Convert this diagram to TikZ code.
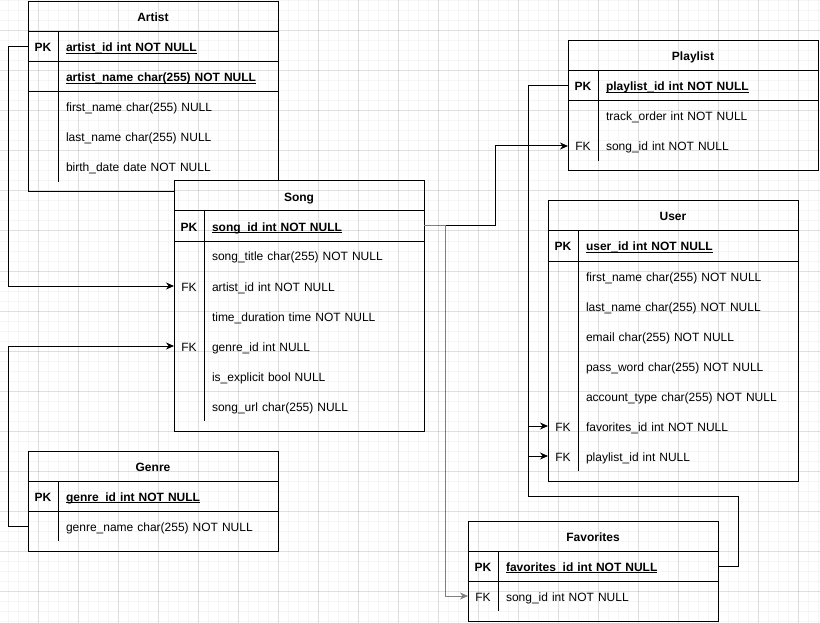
\documentclass[tikz,border=0pt]{standalone}
\usepackage{fontspec}
\setmainfont{Liberation Sans}
\usetikzlibrary{positioning,arrows.meta}

\newcommand{\tblw}{250}
\newcommand{\erfont}{\fontsize{12pt}{14pt}\selectfont}
\newcommand{\rowstrut}{\rule[-3pt]{0pt}{16pt}}
\newcommand{\pkfield}[1]{\underline{\raisebox{0pt}[\height][0pt]{\textbf{#1}}}}
\newcommand{\tblframe}[3]{%
    \filldraw[tblline,fill=white] (#1,#2) rectangle ++(\tblw,{30*#3+40});
    \draw[tblline] (#1,{#2+30}) -- ++(\tblw,0);
    \draw[tblline] (#1,{#2+60}) -- ++(\tblw,0);
    \draw[tblline] ({#1+30},{#2+30}) -- ++(0,{30*#3});
}

\tikzset{
    tblline/.style={line width=1pt},
    tblhead/.style={anchor=north west, minimum width=250pt, minimum height=30pt,
        inner sep=0pt, outer sep=0pt, font=\erfont\bfseries,
        execute at begin node=\rowstrut},
    fieldrow/.style={minimum height=30pt, text width=250pt, inner xsep=0pt,
        inner ysep=0pt, outer sep=0pt, align=left, font=\erfont,
        execute at begin node=\rowstrut\hspace*{38pt}},
    keylbl/.style={inner sep=0pt, font=\erfont, execute at begin node=\rowstrut},
    pklbl/.style={keylbl, font=\erfont\bfseries},
    link/.style={line width=1pt, ->},
    gridminor/.style={line width=1pt, black, opacity=0.035},
    gridmajor/.style={line width=1pt, black, opacity=0.09},
}

\begin{document}
\begin{tikzpicture}[x=1pt, y=-1pt, >={Stealth[length=8pt,width=7pt]}]

\fill[white] (0,0) rectangle (820,623);
\useasboundingbox (0,0) rectangle (820,623);

% artist table
\tblframe{28}{2}{5}
\node[tblhead] (artist) at (28,2) {Artist};
\node[fieldrow, below=0pt of artist] (artist-pk) {\pkfield{artist\_id int NOT NULL}};
\node[fieldrow, below=0pt of artist-pk] (artist-name) {\pkfield{artist\_name char(255) NOT NULL}};
\node[fieldrow, below=0pt of artist-name] (artist-first) {first\_name char(255) NULL};
\node[fieldrow, below=0pt of artist-first] (artist-last) {last\_name char(255) NULL};
\node[fieldrow, below=0pt of artist-last] (artist-birth) {birth\_date date NOT NULL};
\node[pklbl] (artist-pk-key) at ([xshift=15pt]artist-pk.west) {PK};
\draw[tblline] (artist-name.south west) -- (artist-name.south east);

% genre table
\tblframe{28}{451}{2}
\node[tblhead] (genre) at (28,451) {Genre};
\node[fieldrow, below=0pt of genre] (genre-pk) {\pkfield{genre\_id int NOT NULL}};
\node[fieldrow, below=0pt of genre-pk] (genre-name) {genre\_name char(255) NOT NULL};
\node[pklbl] (genre-pk-key) at ([xshift=15pt]genre-pk.west) {PK};

% song table
\tblframe{174}{181}{7}
\node[tblhead] (song) at (174,181) {Song};
\node[fieldrow, below=0pt of song] (song-pk) {\pkfield{song\_id int NOT NULL}};
\node[fieldrow, below=0pt of song-pk] (song-title) {song\_title char(255) NOT NULL};
\node[fieldrow, below=0pt of song-title] (song-artistid) {artist\_id int NOT NULL};
\node[fieldrow, below=0pt of song-artistid] (song-duration) {time\_duration time NOT NULL};
\node[fieldrow, below=0pt of song-duration] (song-genreid) {genre\_id int NULL};
\node[fieldrow, below=0pt of song-genreid] (song-explicit) {is\_explicit bool NULL};
\node[fieldrow, below=0pt of song-explicit] (song-url) {song\_url char(255) NULL};
\node[pklbl] (song-pk-key) at ([xshift=15pt]song-pk.west) {PK};
\node[keylbl] (song-artistid-key) at ([xshift=15pt]song-artistid.west) {FK};
\node[keylbl] (song-genreid-key) at ([xshift=15pt]song-genreid.west) {FK};

% playlist table
\tblframe{568}{41}{3}
\node[tblhead] (playlist) at (568,41) {Playlist};
\node[fieldrow, below=0pt of playlist] (playlist-pk) {\pkfield{playlist\_id int NOT NULL}};
\node[fieldrow, below=0pt of playlist-pk] (playlist-order) {track\_order int NOT NULL};
\node[fieldrow, below=0pt of playlist-order] (playlist-songid) {song\_id int NOT NULL};
\node[pklbl] (playlist-pk-key) at ([xshift=15pt]playlist-pk.west) {PK};
\node[keylbl] (playlist-songid-key) at ([xshift=15pt]playlist-songid.west) {FK};

% user table
\tblframe{548}{201}{8}
\node[tblhead] (user) at (548,201) {User};
\node[fieldrow, below=0pt of user] (user-pk) {\pkfield{user\_id int NOT NULL}};
\node[fieldrow, below=0pt of user-pk] (user-first) {first\_name char(255) NOT NULL};
\node[fieldrow, below=0pt of user-first] (user-last) {last\_name char(255) NOT NULL};
\node[fieldrow, below=0pt of user-last] (user-email) {email char(255) NOT NULL};
\node[fieldrow, below=0pt of user-email] (user-pass) {pass\_word char(255) NOT NULL};
\node[fieldrow, below=0pt of user-pass] (user-type) {account\_type char(255) NOT NULL};
\node[fieldrow, below=0pt of user-type] (user-favid) {favorites\_id int NOT NULL};
\node[fieldrow, below=0pt of user-favid] (user-playlistid) {playlist\_id int NULL};
\node[pklbl] (user-pk-key) at ([xshift=15pt]user-pk.west) {PK};
\node[keylbl] (user-favid-key) at ([xshift=15pt]user-favid.west) {FK};
\node[keylbl] (user-playlistid-key) at ([xshift=15pt]user-playlistid.west) {FK};

% favorites table
\tblframe{468}{521}{2}
\node[tblhead] (fav) at (468,521) {Favorites};
\node[fieldrow, below=0pt of fav] (fav-pk) {\pkfield{favorites\_id int NOT NULL}};
\node[fieldrow, below=0pt of fav-pk] (fav-songid) {song\_id int NOT NULL};
\node[pklbl] (fav-pk-key) at ([xshift=15pt]fav-pk.west) {PK};
\node[keylbl] (fav-songid-key) at ([xshift=15pt]fav-songid.west) {FK};

% relations
\coordinate (favbend) at (528,496);
\draw[link] (artist-pk.west) -- ++(-20pt,0) |- (song-artistid.west);
\draw[link] (genre-name.west) -- ++(-20pt,0) |- (song-genreid.west);
\draw[link] (song-pk.east) -- ++(71pt,0) |- (playlist-songid.west);
\draw[link,draw=black!50] (song-pk.east) -- ++(21pt,0) |- (fav-songid.west);
\draw[link] (playlist-pk.west) -- ++(-40pt,0) |- (user-playlistid.west);
\draw[link] (fav-pk.east) -- ++(20pt,0) |- (favbend) |- (user-favid.west);

% grid
\foreach \gx in {8,18,...,818}
    \draw[gridminor] (\gx,0) -- (\gx,623);
\foreach \gy in {1,11,...,621}
    \draw[gridminor] (0,\gy) -- (820,\gy);
\foreach \gx in {38,78,...,798}
    \draw[gridmajor] (\gx,0) -- (\gx,623);
\foreach \gy in {31,71,...,591}
    \draw[gridmajor] (0,\gy) -- (820,\gy);

\end{tikzpicture}
\end{document}
